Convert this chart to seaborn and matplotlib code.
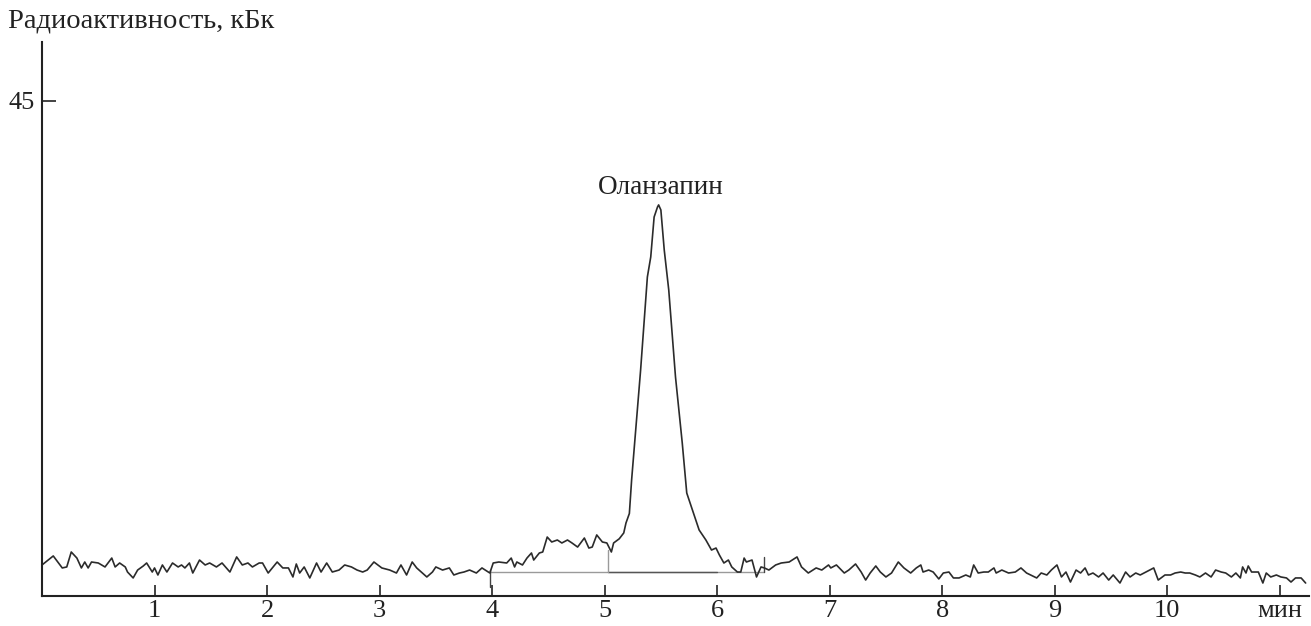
import numpy as np
import pandas as pd
import seaborn as sns
import matplotlib.pyplot as plt

# chromatogram trace: time (min) and radioactivity (kBq)
time_min = [
    0.00, 0.10, 0.18, 0.22, 0.26, 0.31, 0.35, 0.38, 0.41, 0.44, 0.50, 0.56, 0.62, 0.65, 0.69,
    0.74, 0.76, 0.81, 0.85, 0.90, 0.93, 0.98, 1.00, 1.03, 1.07, 1.11, 1.16, 1.21, 1.24, 1.27,
    1.31, 1.34, 1.40, 1.45, 1.49, 1.55, 1.60, 1.67, 1.73, 1.78, 1.83, 1.87, 1.93,
    1.96, 2.01, 2.09, 2.14, 2.19, 2.23, 2.26, 2.29, 2.33, 2.38, 2.44, 2.48, 2.53, 2.58, 2.64,
    2.69, 2.75, 2.80, 2.85, 2.89, 2.95, 3.02, 3.09, 3.15, 3.19, 3.24, 3.29, 3.33, 3.37, 3.42,
    3.47, 3.50, 3.56, 3.62, 3.66, 3.71, 3.75, 3.80, 3.86, 3.91, 3.98,
    4.01, 4.06, 4.13, 4.17, 4.20, 4.22, 4.27, 4.31, 4.35, 4.37, 4.42, 4.45, 4.49, 4.53, 4.58,
    4.62, 4.67, 4.71, 4.76, 4.82, 4.86, 4.89, 4.93, 4.98, 5.02, 5.06, 5.08, 5.13, 5.17, 5.19,
    5.22, 5.24, 5.32, 5.38, 5.41, 5.44, 5.47, 5.48, 5.50, 5.53, 5.57, 5.63, 5.69, 5.73, 5.78,
    5.84, 5.90, 5.95, 5.99, 6.02, 6.06, 6.10, 6.13, 6.18, 6.21, 6.24, 6.26, 6.31, 6.35, 6.39,
    6.42, 6.46, 6.52, 6.57, 6.64, 6.71, 6.75, 6.81, 6.88, 6.93, 6.99,
    7.01, 7.06, 7.13, 7.17, 7.23, 7.28, 7.32, 7.36, 7.41, 7.45, 7.50, 7.55, 7.61, 7.66, 7.72,
    7.77, 7.81, 7.83, 7.88, 7.92, 7.97, 8.01, 8.06, 8.10, 8.15, 8.21, 8.25, 8.28, 8.32, 8.37,
    8.41, 8.46, 8.48, 8.53, 8.59, 8.65, 8.70, 8.75,
    8.84, 8.88, 8.93, 8.97, 9.02, 9.06, 9.10, 9.14, 9.19, 9.23, 9.27, 9.30, 9.34, 9.39, 9.43,
    9.48, 9.52, 9.58, 9.63, 9.67, 9.72, 9.76, 9.81, 9.88, 9.92, 9.98, 10.03, 10.07, 10.12,
    10.16, 10.20, 10.25, 10.29, 10.34, 10.39, 10.43, 10.48, 10.52, 10.57, 10.61, 10.65, 10.67,
    10.70, 10.72, 10.75, 10.81, 10.85, 10.88, 10.92, 10.97, 11.01, 11.06, 11.10, 11.14, 11.19,
    11.23,
]
activity = [
    2.82, 3.64, 2.55, 2.64, 4.00, 3.45, 2.55, 3.09, 2.55, 3.09, 3.00, 2.64, 3.45, 2.64, 3.00,
    2.64, 2.18, 1.64, 2.36, 2.73, 3.00, 2.18, 2.55, 1.91, 2.82, 2.18, 3.00, 2.64, 2.82, 2.55,
    3.00, 2.09, 3.27, 2.82, 3.00, 2.64, 3.00, 2.18, 3.55, 2.82, 3.00, 2.64, 3.00,
    3.00, 2.09, 3.09, 2.55, 2.55, 1.73, 2.91, 2.09, 2.64, 1.64, 3.00, 2.18, 3.00, 2.18, 2.36,
    2.82, 2.64, 2.36, 2.18, 2.36, 3.09, 2.55, 2.36, 2.09, 2.82, 1.91, 3.09, 2.55, 2.18, 1.73,
    2.18, 2.64, 2.36, 2.55, 1.91, 2.09, 2.18, 2.36, 2.09, 2.55, 2.09,
    3.00, 3.09, 3.00, 3.45, 2.64, 3.09, 2.82, 3.45, 3.91, 3.27, 3.91, 4.00, 5.36, 4.91, 5.09,
    4.82, 5.09, 4.82, 4.45, 5.27, 4.36, 4.45, 5.55, 4.91, 4.82, 4.00, 4.82, 5.20, 5.73, 6.64,
    7.50, 10.55, 20.55, 29.00, 30.82, 34.45, 35.36, 35.55, 35.09, 31.45, 27.82, 19.91, 13.91, 9.36, 7.82,
    6.00, 5.09, 4.18, 4.36, 3.73, 3.00, 3.27, 2.64, 2.18, 2.18, 3.45, 3.09, 3.27, 1.73, 2.64,
    2.55, 2.36, 2.82, 3.00, 3.09, 3.55, 2.64, 2.09, 2.55, 2.36, 2.82,
    2.55, 2.82, 2.09, 2.36, 2.91, 2.18, 1.45, 2.09, 2.73, 2.18, 1.73, 2.09, 3.09, 2.55, 2.09,
    2.55, 2.82, 2.18, 2.36, 2.18, 1.55, 2.09, 2.18, 1.64, 1.64, 1.91, 1.73, 2.82, 2.09, 2.18,
    2.18, 2.55, 2.09, 2.36, 2.09, 2.18, 2.55, 2.09,
    1.64, 2.09, 1.91, 2.36, 2.82, 1.73, 2.18, 1.27, 2.36, 2.09, 2.55, 1.91, 2.09, 1.73, 2.09,
    1.45, 1.91, 1.18, 2.18, 1.73, 2.09, 1.91, 2.18, 2.55, 1.45, 1.91, 1.91, 2.09, 2.18,
    2.09, 2.09, 1.91, 1.73, 2.09, 1.73, 2.36, 2.18, 2.09, 1.73, 2.09, 1.64, 2.64,
    2.09, 2.73, 2.18, 2.18, 1.18, 2.09, 1.73, 1.91, 1.73, 1.64, 1.27, 1.64, 1.64,
    1.18,
]

# integration marks under the peak
base_start, base_split, base_end = 3.98, 5.03, 6.42
base_level = 2.18
start_mark = [0.82, 2.40]
split_mark = [base_level, 4.18]
end_mark = [base_level, 3.55]

x_ticks = [1, 2, 3, 4, 5, 6, 7, 8, 9, 10, 11]
x_tick_labels = ["1", "2", "3", "4", "5", "6", "7", "8", "9", "10", "мин"]
y_ticks = [45]
peak_name = "Оланзапин"
peak_pos = (5.50, 37.1)

df = pd.DataFrame({"t": time_min, "a": activity})

sns.set_style("ticks")
plt.rcParams['font.family'] = ['Liberation Serif', 'DejaVu Serif']

fig = plt.figure(figsize=(13.11, 6.26), dpi=100)
ax = fig.add_axes([42 / 1311, 30 / 626, 1267 / 1311, 554 / 626])

# integration baseline (drawn first so the trace sits on top)
ax.plot([base_start, base_end], [base_level, base_level], color="#9a9a9a", lw=1.0)
ax.plot([base_split, 6.0], [base_level, base_level], color="#555555", lw=1.0)
ax.plot([base_start, base_start], start_mark, color="#444444", lw=1.0)
ax.plot([base_split, base_split], split_mark, color="#9a9a9a", lw=1.0)
ax.plot([base_end, base_end], end_mark, color="#444444", lw=1.0)

sns.lineplot(data=df, x="t", y="a", ax=ax, color="#2b2b2b", lw=1.2, estimator=None)

ax.text(peak_pos[0], peak_pos[1], peak_name, ha="center", va="center", fontsize=19.5,
        color="#222222")

ax.set_xlim(0, 11.26)
ax.set_ylim(0, 50.36)
ax.set_xticks(x_ticks)
ax.set_xticklabels(x_tick_labels)
ax.set_yticks(y_ticks)
ax.set_xlabel("")
ax.set_ylabel("")
ax.tick_params(axis="both", direction="in", length=8, width=1.2, labelsize=19, colors="#222222")
ax.tick_params(axis="x", pad=3)
ax.tick_params(axis="y", pad=5, length=10)
sns.despine(ax=ax)
for side in ["left", "bottom"]:
    ax.spines[side].set_color("#222222")
    ax.spines[side].set_linewidth(1.5)

fig.text(8 / 1311, 1 - 21 / 626, "Радиоактивность, кБк", ha="left", va="center",
         fontsize=20.5, color="#222222")

fig.savefig("out.png", dpi=100)
